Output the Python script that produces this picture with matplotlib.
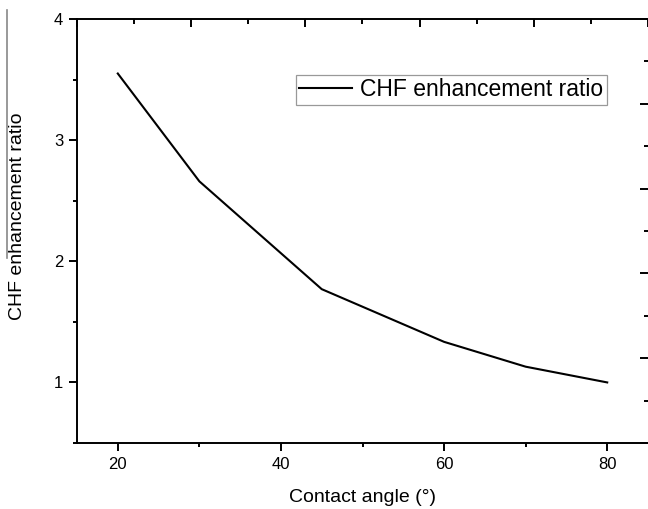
import matplotlib
matplotlib.use("Agg")
import matplotlib.pyplot as plt
from matplotlib.lines import Line2D
from matplotlib.ticker import MultipleLocator, NullFormatter

# data
contact_angle = [20, 30, 45, 60, 70, 80]
chf_ratio = [3.55, 2.66, 1.77, 1.335, 1.13, 1.0]
x_ticks = [20, 40, 60, 80]
y_ticks = [1, 2, 3, 4]

plt.rcParams["font.family"] = ["Liberation Sans", "DejaVu Sans"]

fig = plt.figure(figsize=(6.48, 5.09), dpi=100)
ax = fig.add_axes([77 / 648, 66 / 509, 571 / 648, 424 / 509])

ax.plot(contact_angle, chf_ratio, color="black", linewidth=1.5, label="CHF enhancement ratio")

ax.set_xlim(15, 85)
ax.set_ylim(0.5, 4)
ax.set_xticks(x_ticks)
ax.set_yticks(y_ticks)
ax.set_xticklabels([str(t) for t in x_ticks], fontsize=12)
ax.set_yticklabels([str(t) for t in y_ticks], fontsize=12)
ax.xaxis.set_minor_locator(MultipleLocator(10))
ax.yaxis.set_minor_locator(MultipleLocator(0.5))
ax.tick_params(which="major", direction="out", length=6, width=1.4, pad=4)
ax.tick_params(which="minor", direction="out", length=3, width=1.4)
ax.tick_params(top=False, right=False)

for side in ["left", "bottom", "top"]:
    ax.spines[side].set_linewidth(1.4)
ax.spines["right"].set_visible(False)

# top and right axes with their own inward ticks (no labels)
top = ax.twiny()
top.set_xlim(15, 85)
top.xaxis.set_major_locator(MultipleLocator(14, offset=1))
top.xaxis.set_minor_locator(MultipleLocator(7, offset=1))
top.xaxis.set_major_formatter(NullFormatter())
top.tick_params(which="major", direction="in", length=6, width=1.4)
top.tick_params(which="minor", direction="in", length=3.5, width=1.4)
top.tick_params(axis="y", left=False, right=False, labelleft=False, labelright=False)
for s in top.spines.values():
    s.set_visible(False)

right = ax.twinx()
right.set_ylim(0.5, 4)
right.yaxis.set_major_locator(MultipleLocator(0.7, offset=0.5))
right.yaxis.set_minor_locator(MultipleLocator(0.35, offset=0.15))
right.yaxis.set_major_formatter(NullFormatter())
right.tick_params(which="major", direction="in", length=6, width=1.4)
right.tick_params(which="minor", direction="in", length=3, width=1.4)
for s in right.spines.values():
    s.set_visible(False)

ax.set_xlabel("Contact angle (°)", fontsize=14)
ax.set_ylabel("CHF enhancement ratio", fontsize=14)
ax.xaxis.set_label_coords(0.5, -0.108)
ax.yaxis.set_label_coords(-0.089, 0.535)

leg = ax.legend(loc="upper left", bbox_to_anchor=(0.3835, 0.868), borderaxespad=0,
                fontsize=16.5, frameon=True, fancybox=False, handlelength=2.3,
                handletextpad=0.35, borderpad=0.15)
leg.get_frame().set_edgecolor("#808080")
leg.get_frame().set_linewidth(0.9)

# thin gray rule at the far left edge
fig.add_artist(Line2D([7 / 648, 7 / 648], [1 - 10 / 509, 1 - 258 / 509],
                      transform=fig.transFigure, color="#888888", linewidth=1.2))

fig.savefig("out.png", dpi=100)
